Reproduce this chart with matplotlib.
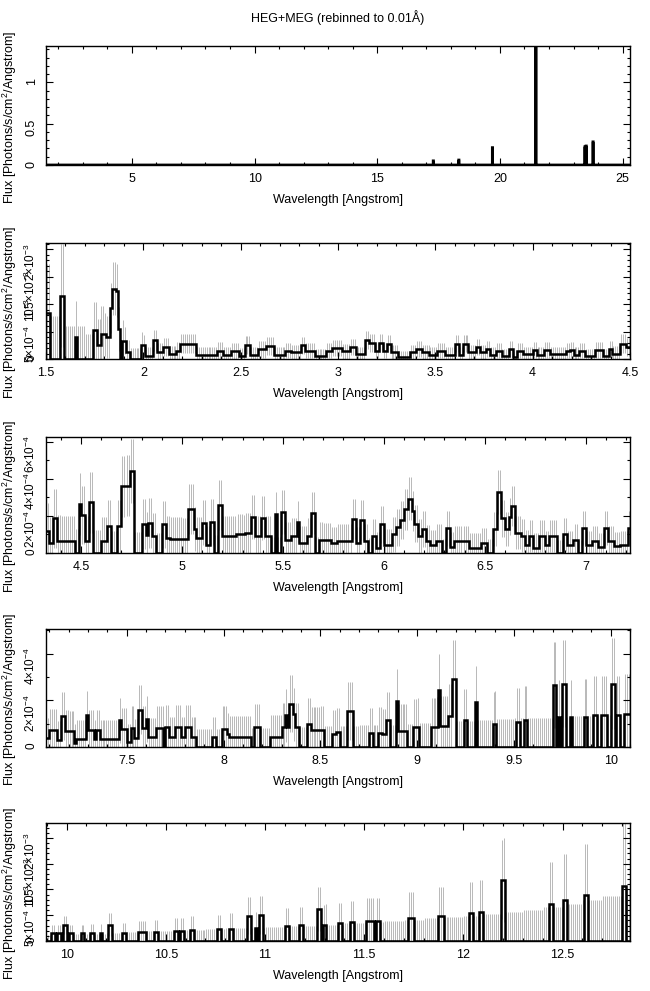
import numpy as np
import matplotlib
matplotlib.use("Agg")
import matplotlib.pyplot as plt
from matplotlib.ticker import MultipleLocator, FixedLocator, FuncFormatter

plt.rcParams['font.family'] = ['Liberation Sans', 'DejaVu Sans']
plt.rcParams['mathtext.fontset'] = 'custom'
plt.rcParams['mathtext.rm'] = 'Liberation Sans'
plt.rcParams['mathtext.it'] = 'Liberation Sans'

TITLE = "HEG+MEG (rebinned to 0.01Å)"
XLABEL = "Wavelength [Angstrom]"
YLABEL = "Flux [Photons/s/cm$^2$/Angstrom]"

# ---------------- Panel 1: full range, strong lines (flux) ----------------
p1_lines_wl = [17.28, 18.33, 19.70, 21.47, 23.46, 23.52, 23.80]
p1_lines_flux = [0.05, 0.06, 0.21, 1.44, 0.22, 0.23, 0.28]

# ---------------- Panels 2-5: step segments (start, end, flux) ----------------
# panel 2 flux in units of 1e-3
p2_segs = [
    (1.50, 1.52, 0.83), (1.57, 1.59, 1.15), (1.65, 1.66, 0.40), (1.74, 1.76, 0.52),
    (1.76, 1.78, 0.25), (1.78, 1.81, 0.45), (1.81, 1.83, 0.40), (1.83, 1.84, 0.93),
    (1.84, 1.86, 1.28), (1.86, 1.87, 1.24), (1.87, 1.88, 0.55), (1.89, 1.91, 0.33),
    (1.91, 1.93, 0.12), (1.99, 2.01, 0.25), (2.01, 2.05, 0.06), (2.05, 2.07, 0.34),
    (2.07, 2.10, 0.12), (2.10, 2.13, 0.22), (2.13, 2.17, 0.09), (2.17, 2.19, 0.15),
    (2.19, 2.27, 0.28), (2.27, 2.38, 0.08), (2.38, 2.41, 0.15), (2.41, 2.45, 0.08),
    (2.45, 2.49, 0.14), (2.49, 2.52, 0.06), (2.52, 2.55, 0.25), (2.55, 2.59, 0.08),
    (2.59, 2.63, 0.18), (2.63, 2.67, 0.24), (2.67, 2.73, 0.08), (2.73, 2.76, 0.15),
    (2.76, 2.81, 0.12), (2.81, 2.83, 0.25), (2.83, 2.88, 0.15), (2.88, 2.94, 0.06),
    (2.94, 2.97, 0.15), (2.97, 3.02, 0.20), (3.02, 3.06, 0.14), (3.06, 3.09, 0.22),
    (3.09, 3.14, 0.09), (3.14, 3.16, 0.34), (3.16, 3.19, 0.29), (3.19, 3.21, 0.15),
    (3.21, 3.23, 0.29), (3.23, 3.25, 0.15), (3.25, 3.27, 0.28), (3.27, 3.31, 0.12),
    (3.31, 3.37, 0.03), (3.37, 3.40, 0.12), (3.40, 3.43, 0.18), (3.43, 3.47, 0.12),
    (3.47, 3.51, 0.08), (3.51, 3.55, 0.15), (3.55, 3.60, 0.08), (3.60, 3.62, 0.28),
    (3.62, 3.64, 0.08), (3.64, 3.67, 0.28), (3.67, 3.71, 0.12), (3.71, 3.73, 0.22),
    (3.73, 3.76, 0.12), (3.76, 3.78, 0.18), (3.78, 3.81, 0.08), (3.81, 3.84, 0.15),
    (3.84, 3.88, 0.06), (3.88, 3.90, 0.18), (3.90, 3.92, 0.03), (3.92, 3.95, 0.15),
    (3.95, 4.00, 0.09), (4.00, 4.02, 0.16), (4.02, 4.06, 0.08), (4.06, 4.09, 0.16),
    (4.09, 4.17, 0.09), (4.17, 4.19, 0.15), (4.19, 4.21, 0.16), (4.21, 4.24, 0.08),
    (4.24, 4.27, 0.15), (4.27, 4.32, 0.06), (4.32, 4.36, 0.16), (4.36, 4.39, 0.06),
    (4.39, 4.41, 0.18), (4.41, 4.45, 0.09), (4.45, 4.48, 0.28), (4.48, 4.50, 0.22),
]
# zero-count error level per 0.1 A block, starting at 1.5 (units 1e-3)
p2_env = [0.78, 0.60, 0.45, 0.33, 0.20, 0.15, 0.14, 0.13, 0.13, 0.13,
          0.13, 0.13, 0.12, 0.12, 0.12, 0.12, 0.12, 0.12, 0.12, 0.12,
          0.12, 0.12, 0.12, 0.12, 0.12, 0.12, 0.12, 0.12, 0.12, 0.13]

# panel 3 flux in units of 1e-4
p3_segs = [
    (4.32, 4.34, 1.20), (4.34, 4.36, 0.55), (4.36, 4.38, 1.87), (4.38, 4.47, 0.62),
    (4.49, 4.50, 2.63), (4.50, 4.52, 2.06), (4.52, 4.54, 0.62), (4.54, 4.56, 2.73),
    (4.60, 4.63, 0.62), (4.63, 4.65, 1.44), (4.68, 4.70, 1.44), (4.70, 4.72, 3.60),
    (4.72, 4.74, 3.63), (4.74, 4.76, 4.42), (4.80, 4.82, 1.58), (4.82, 4.83, 0.96),
    (4.83, 4.85, 1.63), (4.85, 4.87, 0.90), (4.90, 4.92, 1.54), (4.92, 4.94, 0.80),
    (4.94, 5.03, 0.77), (5.03, 5.06, 2.35), (5.06, 5.07, 1.29), (5.07, 5.10, 0.80),
    (5.10, 5.12, 1.63), (5.12, 5.14, 0.42), (5.14, 5.16, 1.67), (5.18, 5.20, 2.58),
    (5.20, 5.27, 0.90), (5.27, 5.31, 1.00), (5.31, 5.34, 1.10), (5.34, 5.36, 1.92),
    (5.36, 5.39, 0.94), (5.39, 5.41, 1.90), (5.41, 5.44, 0.94), (5.46, 5.47, 2.10),
    (5.49, 5.51, 2.21), (5.51, 5.54, 0.71), (5.54, 5.57, 0.90), (5.57, 5.58, 1.67),
    (5.58, 5.62, 0.52), (5.62, 5.64, 0.90), (5.64, 5.66, 2.15), (5.68, 5.74, 0.71),
    (5.74, 5.77, 0.52), (5.77, 5.84, 0.65), (5.84, 5.86, 1.83), (5.86, 5.88, 0.52),
    (5.88, 5.90, 1.77), (5.90, 5.92, 0.67), (5.94, 5.96, 0.90), (5.96, 5.98, 0.29),
    (5.98, 6.00, 1.54), (6.00, 6.04, 0.42), (6.04, 6.06, 1.00), (6.06, 6.08, 1.38),
    (6.08, 6.10, 1.77), (6.10, 6.12, 2.35), (6.12, 6.14, 2.92), (6.14, 6.15, 2.25),
    (6.15, 6.17, 1.58), (6.17, 6.19, 0.94), (6.19, 6.21, 1.29), (6.21, 6.23, 0.65),
    (6.23, 6.26, 0.42), (6.26, 6.29, 0.67), (6.31, 6.33, 1.33), (6.33, 6.35, 0.33),
    (6.35, 6.42, 0.62), (6.42, 6.48, 0.29), (6.48, 6.51, 0.52), (6.54, 6.56, 1.29),
    (6.56, 6.58, 3.30), (6.58, 6.60, 1.87), (6.60, 6.62, 1.29), (6.62, 6.63, 1.96),
    (6.63, 6.65, 2.54), (6.65, 6.68, 1.10), (6.68, 6.70, 0.94), (6.70, 6.72, 0.42),
    (6.72, 6.74, 0.90), (6.74, 6.77, 0.29), (6.77, 6.80, 0.90), (6.80, 6.82, 0.42),
    (6.82, 6.86, 0.90), (6.89, 6.91, 1.00), (6.91, 6.94, 0.42), (6.94, 6.96, 0.71),
    (6.98, 7.00, 1.33), (7.00, 7.03, 0.42), (7.03, 7.06, 0.62), (7.06, 7.09, 0.33),
    (7.09, 7.11, 1.33), (7.11, 7.14, 0.62), (7.14, 7.17, 0.37), (7.17, 7.21, 0.42),
    (7.21, 7.22, 1.33),
]
# starting at 4.3 (units 1e-4)
p3_env = [1.30, 1.28, 1.25, 1.20, 1.15, 1.10, 1.05, 1.00, 0.97, 0.94,
          0.91, 0.88, 0.86, 0.84, 0.82, 0.80, 0.79, 0.78, 0.77, 0.76,
          0.75, 0.74, 0.74, 0.73, 0.73, 0.72, 0.72, 0.72, 0.72, 0.72]

# panel 4 flux in units of 1e-4
p4_segs = [
    (7.08, 7.10, 0.39), (7.10, 7.14, 0.71), (7.14, 7.16, 0.29), (7.16, 7.18, 1.33),
    (7.18, 7.23, 0.67), (7.23, 7.24, 0.19), (7.24, 7.29, 0.36), (7.29, 7.30, 1.39),
    (7.30, 7.33, 0.71), (7.33, 7.34, 0.36), (7.34, 7.36, 0.71), (7.36, 7.46, 0.36),
    (7.46, 7.47, 1.14), (7.47, 7.50, 0.79), (7.50, 7.52, 0.21), (7.52, 7.54, 0.83),
    (7.54, 7.56, 0.40), (7.56, 7.58, 1.60), (7.58, 7.60, 0.83), (7.60, 7.61, 1.21),
    (7.61, 7.65, 0.43), (7.65, 7.69, 0.83), (7.70, 7.72, 0.86), (7.72, 7.75, 0.43),
    (7.75, 7.78, 0.86), (7.78, 7.80, 0.43), (7.80, 7.83, 0.86), (7.83, 7.86, 0.43),
    (7.94, 7.96, 0.43), (7.99, 8.02, 0.79), (8.02, 8.03, 0.54), (8.03, 8.14, 0.43),
    (8.16, 8.19, 0.86), (8.24, 8.30, 0.43), (8.30, 8.32, 0.86), (8.32, 8.33, 1.36),
    (8.33, 8.34, 0.86), (8.34, 8.36, 1.86), (8.36, 8.37, 1.40), (8.37, 8.39, 0.86),
    (8.43, 8.45, 1.00), (8.45, 8.52, 0.71), (8.56, 8.58, 0.57), (8.58, 8.60, 0.64),
    (8.64, 8.67, 1.54), (8.75, 8.77, 0.61), (8.80, 8.82, 0.61), (8.82, 8.84, 0.54),
    (8.84, 8.86, 1.14), (8.89, 8.90, 1.97), (8.90, 8.95, 0.69), (8.98, 9.01, 0.86),
    (9.07, 9.11, 0.86), (9.11, 9.12, 2.43), (9.12, 9.16, 0.89), (9.16, 9.18, 1.33),
    (9.18, 9.20, 2.93), (9.24, 9.26, 1.14), (9.30, 9.31, 1.93), (9.39, 9.41, 1.00),
    (9.51, 9.53, 1.07), (9.55, 9.57, 1.14), (9.70, 9.72, 2.64), (9.73, 9.74, 1.29),
    (9.75, 9.77, 2.71), (9.79, 9.80, 1.29), (9.86, 9.88, 1.29), (9.91, 9.93, 1.36),
    (9.95, 9.98, 1.36), (10.00, 10.02, 2.71), (10.03, 10.05, 1.36), (10.07, 10.10, 1.43),
]
# starting at 7.0 (units 1e-4)
p4_env = [0.75, 0.75, 0.73, 0.72, 0.72, 0.72, 0.73, 0.74, 0.75, 0.77,
          0.79, 0.80, 0.82, 0.84, 0.86, 0.88, 0.90, 0.93, 0.96, 1.00,
          1.03, 1.07, 1.10, 1.14, 1.18, 1.22, 1.26, 1.30, 1.33, 1.36,
          1.38, 1.40]

# panel 5 flux in units of 1e-3
p5_segs = [
    (9.92, 9.94, 0.15), (9.95, 9.97, 0.15), (9.98, 10.00, 0.31), (10.01, 10.03, 0.15),
    (10.07, 10.09, 0.15), (10.12, 10.14, 0.15), (10.17, 10.18, 0.16), (10.21, 10.23, 0.32),
    (10.28, 10.30, 0.16), (10.36, 10.40, 0.18), (10.44, 10.46, 0.18), (10.54, 10.56, 0.20),
    (10.57, 10.59, 0.20), (10.62, 10.64, 0.21), (10.76, 10.78, 0.23), (10.82, 10.84, 0.24),
    (10.91, 10.93, 0.49), (10.95, 10.96, 0.25), (10.97, 10.99, 0.50), (11.10, 11.12, 0.29),
    (11.17, 11.19, 0.31), (11.26, 11.28, 0.62), (11.29, 11.31, 0.32), (11.37, 11.39, 0.34),
    (11.43, 11.45, 0.36), (11.51, 11.55, 0.38), (11.56, 11.58, 0.38), (11.72, 11.75, 0.44),
    (11.87, 11.90, 0.49), (12.03, 12.05, 0.54), (12.08, 12.10, 0.56), (12.19, 12.21, 1.19),
    (12.43, 12.45, 0.72), (12.50, 12.52, 0.80), (12.61, 12.63, 0.90), (12.80, 12.82, 1.07),
]
# starting at 9.8 (units 1e-3)
p5_env = [0.12, 0.12, 0.13, 0.14, 0.15, 0.17, 0.19, 0.20, 0.22, 0.23,
          0.25, 0.26, 0.28, 0.29, 0.30, 0.32, 0.34, 0.36, 0.38, 0.41,
          0.44, 0.47, 0.49, 0.53, 0.57, 0.61, 0.66, 0.72, 0.79, 0.88,
          1.00]

W, H = 650, 991
fig = plt.figure(figsize=(W / 100, H / 100), dpi=100)
fig.text(338 / W, 1 - 18 / H, TITLE, ha='center', va='center', fontsize=9)

left, right = 46, 630
panels_px = [(46, 165), (243, 359), (437, 553), (629, 747), (823, 941)]


def make_ax(top, bot):
    ax = fig.add_axes([left / W, 1 - bot / H, (right - left) / W, (bot - top) / H])
    ax.tick_params(which='both', direction='in', top=True, right=True, labelsize=9, width=0.8)
    ax.tick_params(which='major', length=5)
    ax.tick_params(which='minor', length=2.5)
    ax.tick_params(axis='y', labelrotation=90, pad=6)
    ax.tick_params(axis='x', pad=6)
    for sp in ax.spines.values():
        sp.set_linewidth(1.0)
    ax.set_xlabel(XLABEL, fontsize=9, labelpad=6)
    ax.set_ylabel(YLABEL, fontsize=9)
    ax.yaxis.set_label_coords(-27 / (right - left), 0.40)
    ax.xaxis.set_major_formatter(FuncFormatter(lambda x, p: f"{x:g}"))
    return ax


def build(lo, hi, segs, env, env_lo, scale, k):
    edges = np.arange(int(round(lo * 100)), int(round(hi * 100)) + 1) / 100.0
    cen = 0.5 * (edges[:-1] + edges[1:])
    vals = np.zeros(len(cen))
    for s, e, v in segs:
        vals[(cen > s) & (cen < e)] = v
    idx = np.clip(((cen - env_lo) / 0.1).astype(int), 0, len(env) - 1)
    envb = np.asarray(env)[idx]
    err = np.sqrt(envb ** 2 + k * vals * envb)
    lo_e = np.clip(vals - err, 0, None)
    hi_e = vals + err
    return edges, cen, vals * scale, lo_e * scale, hi_e * scale


# ---------- panel 1 ----------
ax1 = make_ax(*panels_px[0])
e1 = np.arange(150, 2531) / 100.0
c1 = 0.5 * (e1[:-1] + e1[1:])
v1 = np.zeros(len(c1))
for wl, fl in zip(p1_lines_wl, p1_lines_flux):
    v1[np.argmin(np.abs(c1 - wl))] = fl
ax1.stairs(v1, e1, color='k', lw=2.0, baseline=None)
ax1.set_xlim(1.5, 25.3)
ax1.set_ylim(0, 1.44)
ax1.xaxis.set_major_locator(MultipleLocator(5))
ax1.xaxis.set_minor_locator(MultipleLocator(1))
ax1.yaxis.set_major_locator(FixedLocator([0, 0.5, 1]))
ax1.yaxis.set_minor_locator(MultipleLocator(0.1))
ax1.yaxis.set_major_formatter(FuncFormatter(lambda y, p: f"{y:g}"))

lab_e3 = ["0", "5×10$^{-4}$", "10$^{-3}$", "1.5×10$^{-3}$", "2×10$^{-3}$"]
lab_e4 = ["0", "2×10$^{-4}$", "4×10$^{-4}$", "6×10$^{-4}$"]

cfg = [
    (panels_px[1], 1.50, 4.50, p2_segs, p2_env, 1.5, 1e-3, 0.3, (1.5, 4.5), 2.11e-3,
     [0, 0.5e-3, 1e-3, 1.5e-3, 2e-3], lab_e3, 0.1e-3),
    (panels_px[2], 4.32, 7.22, p3_segs, p3_env, 4.3, 1e-4, 0.34, (4.326, 7.22), 6.25e-4,
     [0, 2e-4, 4e-4, 6e-4], lab_e4, 1e-4),
    (panels_px[3], 7.08, 10.10, p4_segs, p4_env, 7.0, 1e-4, 0.5, (7.083, 10.1), 5.05e-4,
     [0, 2e-4, 4e-4], lab_e4[:3], 1e-4),
    (panels_px[4], 9.89, 12.85, p5_segs, p5_env, 9.8, 1e-3, 0.5, (9.896, 12.84), 2.29e-3,
     [0, 0.5e-3, 1e-3, 1.5e-3, 2e-3], lab_e3, 0.1e-3),
]

for (tb, lo, hi, segs, env, env_lo, scale, k, xl, ytop, yt, ylab, ymin) in cfg:
    ax = make_ax(*tb)
    edges, cen, vals, lo_e, hi_e = build(lo, hi, segs, env, env_lo, scale, k)
    ax.vlines(cen, lo_e, hi_e, color='0.72', lw=0.7, zorder=1)
    ax.stairs(vals, edges, color='k', lw=1.8, baseline=None, zorder=2)
    ax.set_xlim(*xl)
    ax.set_ylim(0, ytop)
    ax.xaxis.set_major_locator(MultipleLocator(0.5))
    ax.xaxis.set_minor_locator(MultipleLocator(0.1))
    ax.yaxis.set_major_locator(FixedLocator(yt))
    ax.set_yticklabels(ylab, fontsize=8.5)
    ax.yaxis.set_minor_locator(MultipleLocator(ymin))

fig.savefig("out.png", dpi=100)
